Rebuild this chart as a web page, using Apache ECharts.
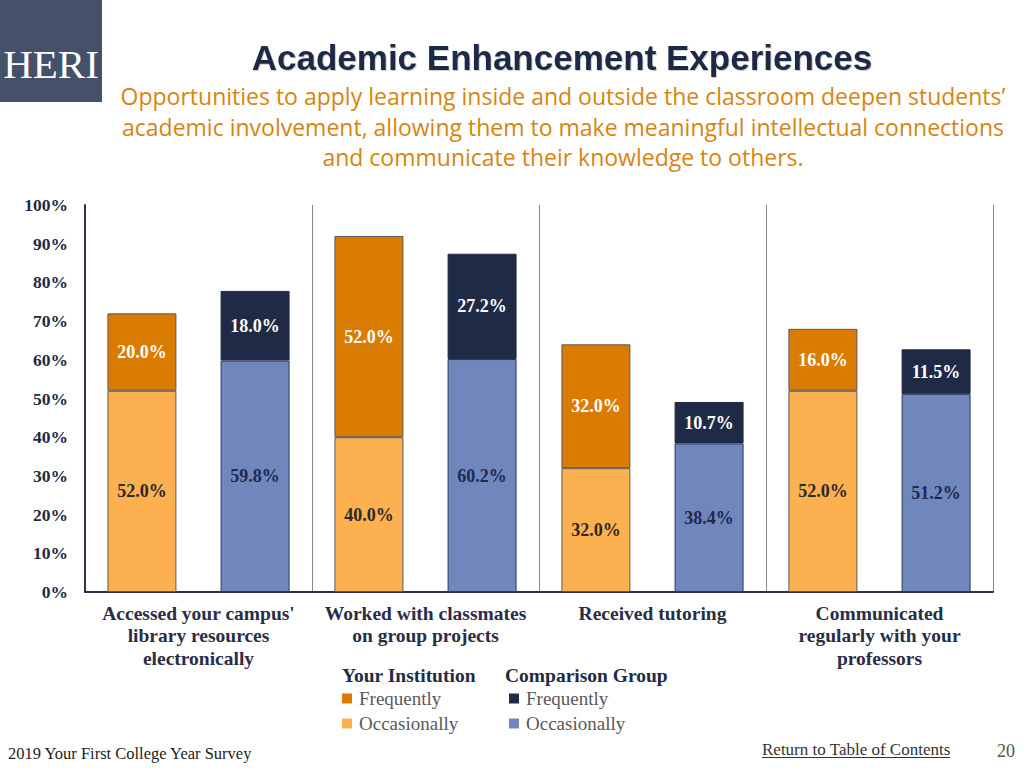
<!DOCTYPE html>
<html>
<head>
<meta charset="utf-8">
<script src="https://cdn.jsdelivr.net/npm/echarts@6/dist/echarts.min.js"></script>
<style>html,body{margin:0;padding:0;background:#fff;}#c{width:1024px;height:768px;}</style>
</head>
<body>
<div id="c"></div>
<script>
const categories = ["Accessed your campus'\nlibrary resources\nelectronically", "Worked with classmates\non group projects", "Received tutoring", "Communicated\nregularly with your\nprofessors"];
const instOccasionally = [52.0, 40.0, 32.0, 52.0];
const instFrequently = [20.0, 52.0, 32.0, 16.0];
const compOccasionally = [59.8, 60.2, 38.4, 51.2];
const compFrequently = [18.0, 27.2, 10.7, 11.5];
const yTicks = [0, 10, 20, 30, 40, 50, 60, 70, 80, 90, 100];

const NAVY = '#1f2a44';
const SERIF = '"Liberation Serif", "DejaVu Serif", serif';
const chart = echarts.init(document.getElementById('c'), null, {renderer: 'svg'});

function lbl(color) {
  return {show: true, position: 'inside', formatter: p => p.value.toFixed(1) + '%',
    color: color, fontFamily: SERIF, fontWeight: 'bold', fontSize: 18};
}
const barW = 69;
chart.setOption({
  animation: false,
  grid: {left: 85, right: 31, top: 205, bottom: 176},
  xAxis: {
    type: 'category', data: categories,
    axisLine: {lineStyle: {color: '#2b2f4a', width: 2}},
    axisTick: {show: false},
    splitLine: {show: true, lineStyle: {color: '#8a8a8a', width: 1}},
    axisLabel: {interval: 0, margin: 10, color: '#2a2d45', fontFamily: SERIF, fontWeight: 'bold', fontSize: 19.5, lineHeight: 22.5, verticalAlign: 'top'}
  },
  yAxis: {
    type: 'value', min: yTicks[0], max: yTicks[yTicks.length - 1], interval: 10,
    axisLine: {show: true, lineStyle: {color: '#2b2f4a', width: 2}},
    axisTick: {show: false},
    splitLine: {show: false},
    axisLabel: {formatter: '{value}%', margin: 17, color: NAVY, fontFamily: SERIF, fontWeight: 'bold', fontSize: 17.5}
  },
  legend: [
    {data: ['Your Institution Frequently', 'Your Institution Occasionally'], left: 342, top: 689, orient: 'vertical', padding: 0,
     icon: 'rect', itemWidth: 10, itemHeight: 10, itemGap: 6, itemStyle: {borderWidth: 0}, formatter: n => n.replace('Your Institution ', ''),
     textStyle: {fontFamily: SERIF, fontSize: 19, color: '#595959', padding: [0, 0, 0, 2]}},
    {data: ['Comparison Group Frequently', 'Comparison Group Occasionally'], left: 509, top: 689, orient: 'vertical', padding: 0,
     icon: 'rect', itemWidth: 10, itemHeight: 10, itemGap: 6, itemStyle: {borderWidth: 0}, formatter: n => n.replace('Comparison Group ', ''),
     textStyle: {fontFamily: SERIF, fontSize: 19, color: '#595959', padding: [0, 0, 0, 2]}}
  ],
  series: [
    {name: 'Your Institution Occasionally', type: 'bar', stack: 'inst', data: instOccasionally, barWidth: barW, barGap: '64%',
     itemStyle: {color: '#fcb04f', borderColor: '#5a5a5a', borderWidth: 1}, label: lbl('#2a2a2a')},
    {name: 'Your Institution Frequently', type: 'bar', stack: 'inst', data: instFrequently, barWidth: barW,
     itemStyle: {color: '#da7b02', borderColor: '#5a5a5a', borderWidth: 1}, label: lbl('#ffffff')},
    {name: 'Comparison Group Occasionally', type: 'bar', stack: 'comp', data: compOccasionally, barWidth: barW,
     itemStyle: {color: '#6f87bd', borderColor: '#2e3a5c', borderWidth: 1}, label: lbl('#1f2a4f')},
    {name: 'Comparison Group Frequently', type: 'bar', stack: 'comp', data: compFrequently, barWidth: barW,
     itemStyle: {color: '#1f2a46', borderColor: '#1f2a46', borderWidth: 1}, label: lbl('#ffffff')}
  ],
  graphic: [
    {type: 'rect', x: 0, y: 0, shape: {width: 102, height: 102}, style: {fill: '#45506b'}},
    {type: 'text', x: 51, y: 64, style: {text: 'HERI', fill: '#ffffff', font: '41px ' + SERIF, align: 'center', verticalAlign: 'middle'}},
    {type: 'text', x: 562, y: 57, style: {text: 'Academic Enhancement Experiences', fill: NAVY, align: 'center', verticalAlign: 'middle',
      font: 'bold 35px "Liberation Sans", Arial, sans-serif', textShadowColor: 'rgba(0,0,0,0.2)', textShadowOffsetX: 1, textShadowOffsetY: 1, textShadowBlur: 1}},
    {type: 'text', x: 563, y: 96, style: {text: 'Opportunities to apply learning inside and outside the classroom deepen students\u2019', fill: '#d8840f', font: '23px "Open Sans", sans-serif', align: 'center', verticalAlign: 'middle'}},
    {type: 'text', x: 563, y: 126.5, style: {text: 'academic involvement, allowing them to make meaningful intellectual connections', fill: '#d8840f', font: '23px "Open Sans", sans-serif', align: 'center', verticalAlign: 'middle'}},
    {type: 'text', x: 563, y: 157, style: {text: 'and communicate their knowledge to others.', fill: '#d8840f', font: '23px "Open Sans", sans-serif', align: 'center', verticalAlign: 'middle'}},
    {type: 'text', x: 342, y: 675, style: {text: 'Your Institution', fill: NAVY, font: 'bold 19.5px ' + SERIF, verticalAlign: 'middle'}},
    {type: 'text', x: 505, y: 675, style: {text: 'Comparison Group', fill: NAVY, font: 'bold 19.5px ' + SERIF, verticalAlign: 'middle'}},
    {type: 'text', x: 8, y: 753, style: {text: '2019 Your First College Year Survey', fill: '#222', font: '16.5px ' + SERIF, verticalAlign: 'middle'}},
    {type: 'text', x: 762, y: 749, style: {text: 'Return to Table of Contents', fill: '#333', font: '17px ' + SERIF, verticalAlign: 'middle'}},
    {type: 'line', shape: {x1: 762, y1: 757.5, x2: 950, y2: 757.5}, style: {stroke: '#333', lineWidth: 1}},
    {type: 'text', x: 997, y: 751, style: {text: '20', fill: '#555', font: '18px ' + SERIF, verticalAlign: 'middle'}}
  ]
});
</script>
</body>
</html>
